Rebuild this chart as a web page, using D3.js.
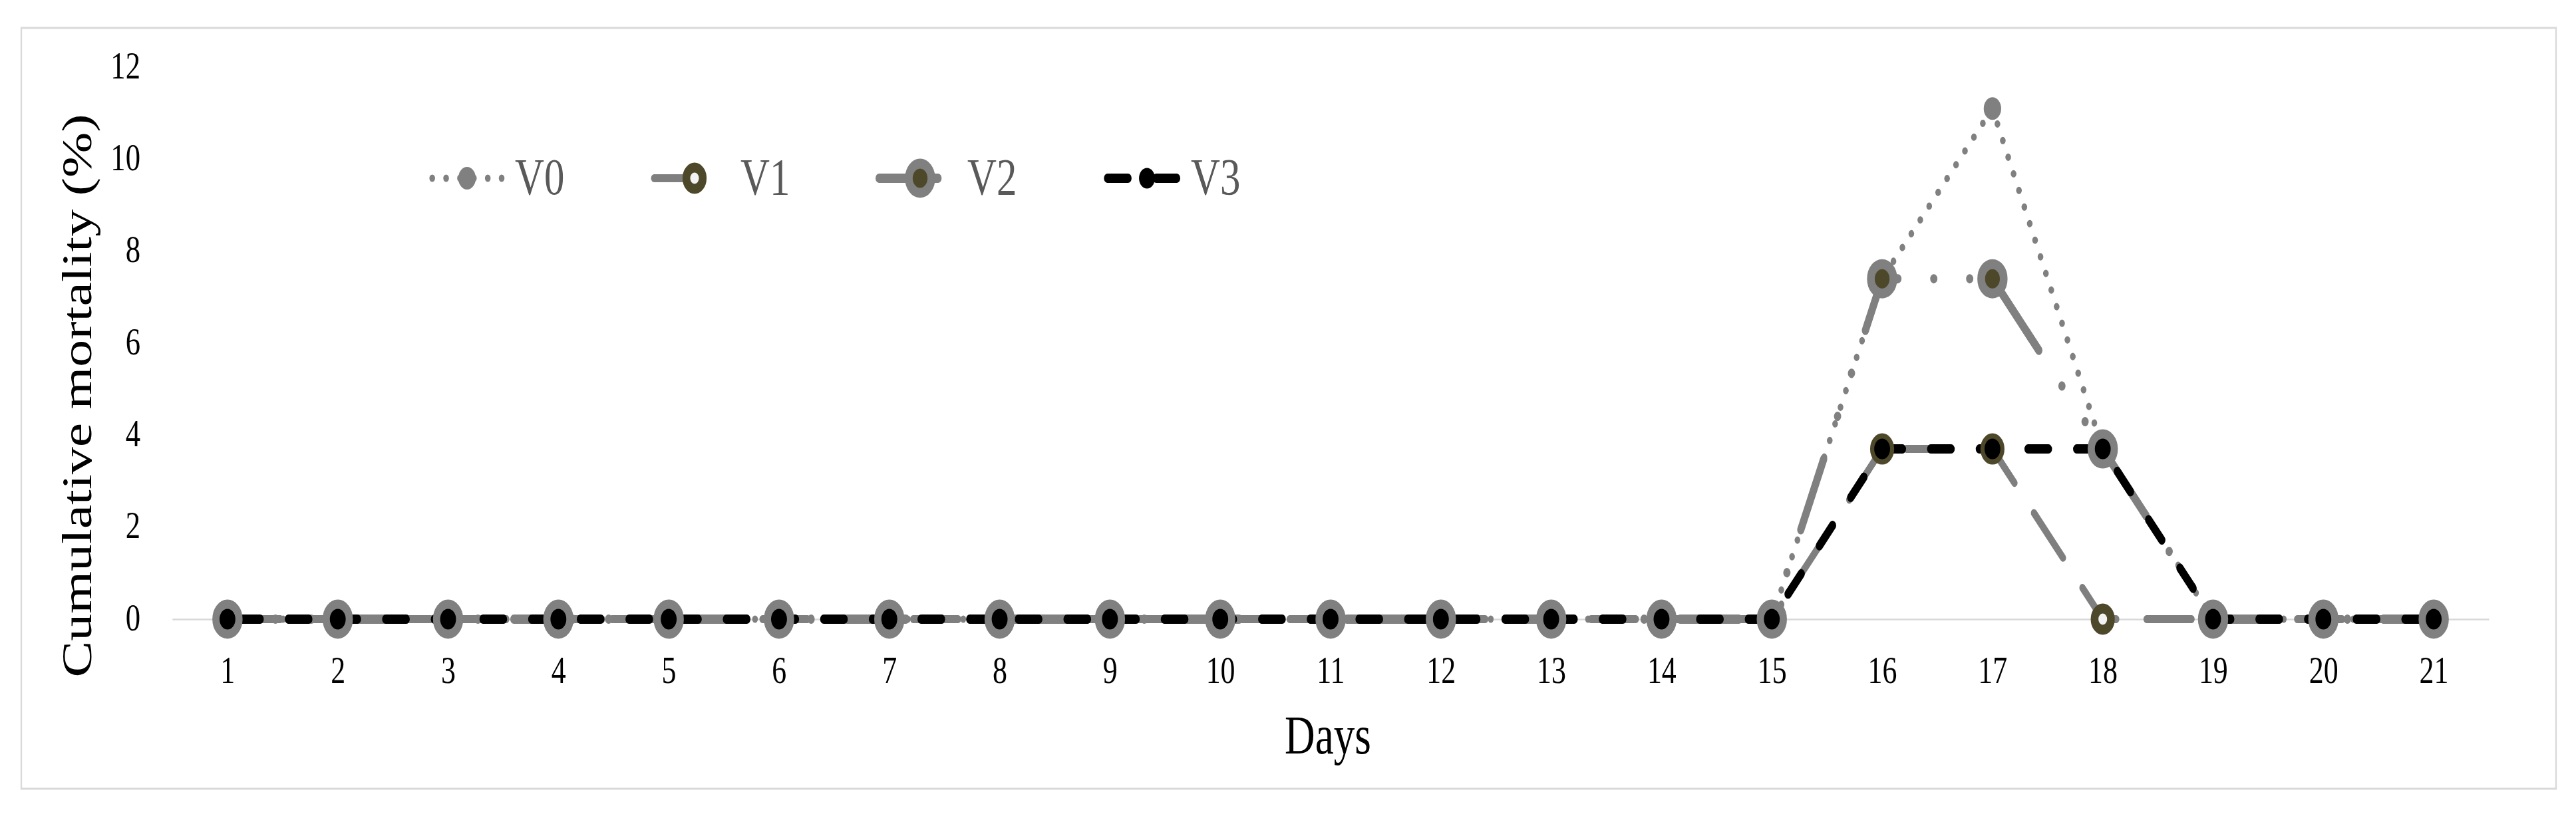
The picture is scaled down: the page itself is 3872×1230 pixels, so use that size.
<!DOCTYPE html>
<html>
<head>
<meta charset="utf-8">
<script src="https://cdn.jsdelivr.net/npm/d3@7/dist/d3.min.js"></script>
<style>
  html, body { margin: 0; padding: 0; background: #fff; }
  svg { display: block; }
</style>
</head>
<body>
<div id="chart"></div>
<script>
// Data
const days = [1, 2, 3, 4, 5, 6, 7, 8, 9, 10, 11, 12, 13, 14, 15, 16, 17, 18, 19, 20, 21];
const v0 = [0, 0, 0, 0, 0, 0, 0, 0, 0, 0, 0, 0, 0, 0, 0, 7.4, 11.1, 3.7, 0, 0, 0];
const v1 = [0, 0, 0, 0, 0, 0, 0, 0, 0, 0, 0, 0, 0, 0, 0, 3.7, 3.7, 0, 0, 0, 0];
const v2 = [0, 0, 0, 0, 0, 0, 0, 0, 0, 0, 0, 0, 0, 0, 0, 7.4, 7.4, 3.7, 0, 0, 0];
const v3 = [0, 0, 0, 0, 0, 0, 0, 0, 0, 0, 0, 0, 0, 0, 0, 3.7, 3.7, 3.7, 0, 0, 0];
const seriesNames = ["V0", "V1", "V2", "V3"];
const yTicks = [0, 2, 4, 6, 8, 10, 12];

// The picture is squeezed horizontally, so draw in a wider space and squeeze it
const W = 3872, H = 1230, sx = 0.77;
const px = v => v / sx;

const olive = "#4e482b";
// line + marker look of each series (legend: line from lx0 to lx1 around the marker)
const styles = [
  {line: "#808080", width: 11, dash: "0.1 27", off: 0, r: 17, fill: "#808080", stroke: "none", sw: 0, lx0: -68, lx1: 68},
  {line: "#7f7f7f", width: 12, dash: "88 59", off: 131.6, r: 16, fill: "#f2f2f2", stroke: olive, sw: 15, lx0: -79, lx1: 55},
  {line: "#808080", width: 14, dash: "115 70 0.1 70 0.1 70", off: 91.4, r: 22, fill: olive, stroke: "#808080", sw: 15, lx0: -80, lx1: 80},
  {line: "#000000", width: 14, dash: "40 55", off: 71.1, r: 15.5, fill: "#000000", stroke: "none", sw: 0, lx0: -77, lx1: 77}
];
const allValues = [v0, v1, v2, v3];

const svg = d3.select("#chart")
  .append("svg")
  .attr("width", W)
  .attr("height", H)
  .attr("viewBox", `0 0 ${px(W)} ${H}`)
  .attr("preserveAspectRatio", "none");

// outer frame
svg.append("rect")
  .attr("x", px(32)).attr("y", 42)
  .attr("width", px(3842 - 32)).attr("height", 1186 - 42)
  .attr("fill", "#fff")
  .attr("stroke", "#d9d9d9")
  .attr("stroke-width", 3);

const x = d3.scaleLinear().domain([0.5, 21.5]).range([px(259), px(3741)]);
const y = d3.scaleLinear().domain([0, 12]).range([931, 101]);

// x axis (zero line + day labels)
const xAxis = svg.append("g")
  .attr("transform", `translate(0,${y(0)})`)
  .call(d3.axisBottom(x).tickValues(days).tickSize(0).tickPadding(56).tickFormat(d3.format("d")));
xAxis.select(".domain").attr("stroke", "#d9d9d9").attr("stroke-width", 2.5);
xAxis.selectAll("text")
  .attr("font-family", "'Liberation Serif', serif")
  .attr("font-size", 57)
  .attr("fill", "#000");

// y axis labels
const yAxis = svg.append("g")
  .attr("transform", `translate(${px(259)},0)`)
  .call(d3.axisLeft(y).tickValues(yTicks).tickSize(0).tickPadding(px(48)));
yAxis.select(".domain").remove();
yAxis.selectAll("text")
  .attr("font-family", "'Liberation Serif', serif")
  .attr("font-size", 58)
  .attr("dy", "0.28em")
  .attr("fill", "#000");

// axis titles
svg.append("text")
  .attr("transform", `translate(${px(137)},595) rotate(-90)`)
  .attr("text-anchor", "middle")
  .attr("font-family", "'Liberation Serif', serif")
  .attr("font-size", 82)
  .attr("fill", "#000")
  .text("Cumulative mortality (%)");

svg.append("text")
  .attr("x", px(1996)).attr("y", 1133)
  .attr("text-anchor", "middle")
  .attr("font-family", "'Liberation Serif', serif")
  .attr("font-size", 82)
  .attr("fill", "#000")
  .text("Days");

// lines
const line = d3.line()
  .x((d, i) => x(days[i]))
  .y(d => y(d));

allValues.forEach((vals, k) => {
  const s = styles[k];
  svg.append("path")
    .datum(vals)
    .attr("d", line)
    .attr("fill", "none")
    .attr("stroke", s.line)
    .attr("stroke-width", s.width)
    .attr("stroke-dasharray", s.dash)
    .attr("stroke-dashoffset", s.off)
    .attr("stroke-linecap", "round")
    .attr("stroke-linejoin", "round");
});

// markers
allValues.forEach((vals, k) => {
  const s = styles[k];
  svg.append("g").selectAll("circle")
    .data(vals)
    .enter()
    .append("circle")
    .attr("cx", (d, i) => x(days[i]))
    .attr("cy", d => y(d))
    .attr("r", s.r)
    .attr("fill", s.fill)
    .attr("stroke", s.stroke)
    .attr("stroke-width", s.sw);
});

// legend
const legendX = [702, 1044, 1383, 1724];
const legendTextX = [774, 1113, 1454, 1790];
const legendY = 268;
seriesNames.forEach((name, k) => {
  const s = styles[k];
  const cx = px(legendX[k]);
  const g = svg.append("g");
  g.append("line")
    .attr("x1", cx + s.lx0).attr("x2", cx + s.lx1)
    .attr("y1", legendY).attr("y2", legendY)
    .attr("stroke", s.line)
    .attr("stroke-width", s.width)
    .attr("stroke-dasharray", s.dash)
    .attr("stroke-linecap", "round");
  g.append("circle")
    .attr("cx", cx).attr("cy", legendY)
    .attr("r", s.r)
    .attr("fill", s.fill)
    .attr("stroke", s.stroke)
    .attr("stroke-width", s.sw);
  g.append("text")
    .attr("x", px(legendTextX[k])).attr("y", 292)
    .attr("font-family", "'Liberation Serif', serif")
    .attr("font-size", 79)
    .attr("fill", "#595959")
    .text(name);
});
</script>
</body>
</html>
